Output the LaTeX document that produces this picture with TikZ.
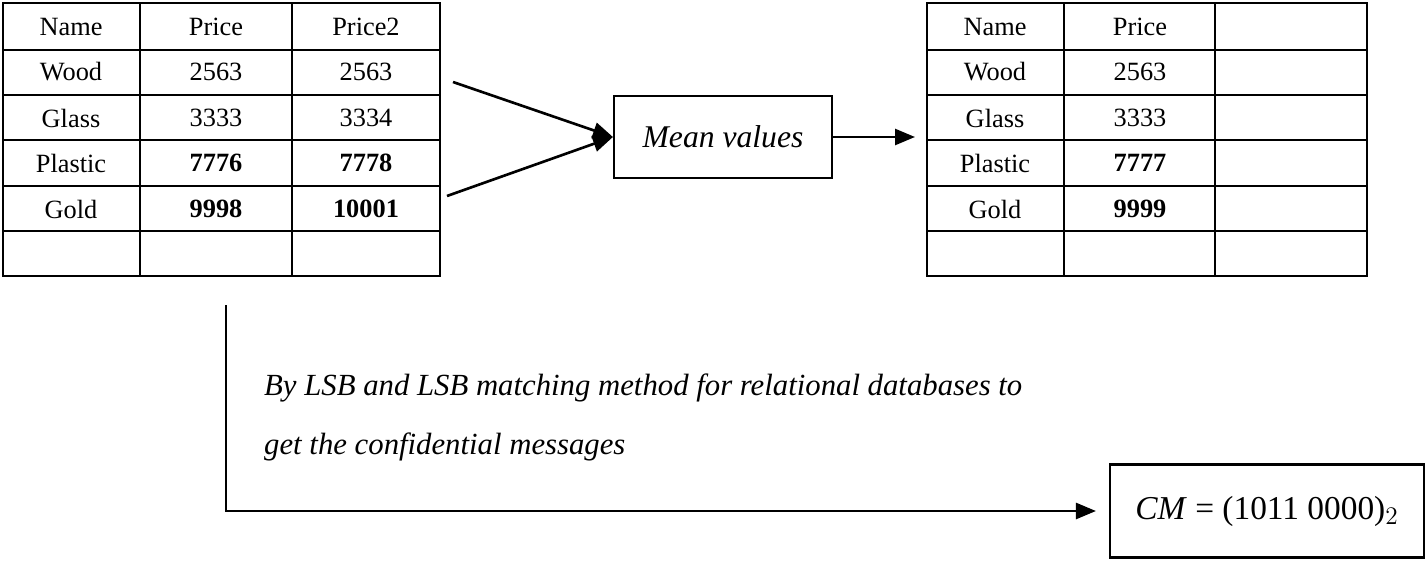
\documentclass[tikz,border=0pt]{standalone}
\usepackage{fontspec}
\setmainfont{Liberation Serif}
\usetikzlibrary{arrows.meta, positioning}
\tikzset{
  cell/.style={font=\fontsize{15}{18}\selectfont},
  note/.style={font=\fontsize{17.5}{21}\selectfont\itshape},
  box/.style={draw, line width=1.2pt, font=\fontsize{18}{22}\selectfont},
  arr/.style={line width=1.5pt, -{Triangle[length=0.4cm,width=0.32cm]}}
}
\begin{document}
\begin{tikzpicture}[x=0.02cm, y=-0.02cm]
\useasboundingbox (0,0) rectangle (1428,561);
% left table
\draw[line width=1.2pt] (3,3) rectangle (440,276);
\foreach \y in {50,95,140,186,231} \draw[line width=1.2pt] (3,\y) -- (440,\y);
\foreach \x in {140,292} \draw[line width=1.2pt] (\x,3) -- (\x,276);
\foreach \r/\y/\a/\b/\c in {1/27/Name/Price/Price2, 2/72/Wood/2563/2563, 3/118/Glass/3333/3334,
  4/163/Plastic/\textbf{7776}/\textbf{7778}, 5/209/Gold/\textbf{9998}/\textbf{10001}} {
  \node[cell] (l\r a) at (71,\y) {\a};
  \node[cell] (l\r b) at (216,\y) {\b};
  \node[cell] (l\r c) at (366,\y) {\c};
}
% right table
\draw[line width=1.2pt] (927,3) rectangle (1367,276);
\foreach \y in {50,95,140,186,231} \draw[line width=1.2pt] (927,\y) -- (1367,\y);
\foreach \x in {1064,1215} \draw[line width=1.2pt] (\x,3) -- (\x,276);
\foreach \r/\y/\a/\b in {1/27/Name/Price, 2/72/Wood/2563, 3/118/Glass/3333,
  4/163/Plastic/\textbf{7777}, 5/209/Gold/\textbf{9999}} {
  \node[cell] (r\r a) at (995,\y) {\a};
  \node[cell] (r\r b) at (1140,\y) {\b};
}
% mean box
\node[box, minimum width=218*0.02cm, minimum height=82*0.02cm] (mean) at (723,137) {\textit{Mean values}};
\coordinate (s1) at (453,82);
\coordinate (s2) at (447,196);
\coordinate (t) at (915,137);
\draw[arr] (s1) -- (mean.west);
\draw[arr] (s2) -- (mean.west);
\draw[arr] (mean.east) -- (t);
% result
\node[box, font=\fontsize{19}{23}\selectfont, minimum width=314*0.02cm, minimum height=93*0.02cm] (cm) at (1267,511) {\textit{CM} = (1011 0000)$_2$};
\coordinate (d0) at (226,305);
\draw[arr] (d0) -- (d0 |- cm.west) -- ([xshift=-0.26cm]cm.west);
\node[note, anchor=west] (txt1) at (258,388) {By LSB and LSB matching method for relational databases to};
\node[note, anchor=west] (txt2) at (258,447) {get the confidential messages};
\end{tikzpicture}
\end{document}
